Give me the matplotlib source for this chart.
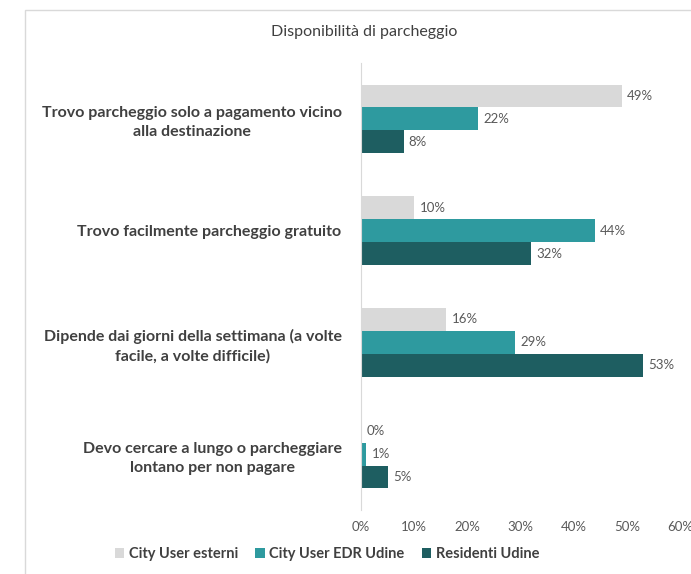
import numpy as np
from matplotlib import pyplot as plt
from matplotlib import ticker
from matplotlib.patches import Rectangle

plt.rcParams['font.family'] = ['Lato', 'DejaVu Sans']

categories = ['Trovo parcheggio solo a pagamento vicino\nalla destinazione',
              'Trovo facilmente parcheggio gratuito',
              'Dipende dai giorni della settimana (a volte\nfacile, a volte difficile)',
              'Devo cercare a lungo o parcheggiare\nlontano per non pagare']
series_names = ['City User esterni', 'City User EDR Udine', 'Residenti Udine']
esterni = [49, 10, 16, 0]
edr_udine = [22, 44, 29, 1]
residenti = [8, 32, 53, 5]
x_ticks = [0, 10, 20, 30, 40, 50, 60]

colors = ['#D9D9D9', '#2E9A9F', '#1E5E61']
text_col = '#404040'

fig = plt.figure(figsize=(6.91, 5.74), dpi=100)
fig.patches.append(Rectangle((25/691, -0.1), 1.0, 1.1 - 10/574,
                             transform=fig.transFigure, fill=False,
                             edgecolor='#D9D9D9', lw=1.0))

ax = fig.add_axes([361/691, 1-510/574, 319/691, 447/574])

y = np.arange(len(categories))
h = 0.205
for i, (vals, name) in enumerate(zip([esterni, edr_udine, residenti],
                                     series_names)):
    pos = y + (i - 1) * h
    ax.barh(pos, vals, h, color=colors[i], label=name)
    for p, v in zip(pos, vals):
        ax.text(v + 1.0, p, f'{v}%', va='center', ha='left',
                fontsize=9.5, color='#595959')

ax.set_ylim(len(categories) - 0.5, -0.5)
ax.set_xlim(0, 60)
ax.set_yticks(y)
ax.set_yticklabels(categories, fontsize=11.5, fontweight='bold',
                   color=text_col, multialignment='center',
                   linespacing=1.45)
ax.set_xticks(x_ticks)
ax.xaxis.set_major_formatter(ticker.FuncFormatter(lambda v, p: f'{v:.0f}%'))
ax.tick_params(axis='x', length=0, labelsize=9.5, labelcolor='#595959', pad=8)
ax.tick_params(axis='y', length=0, pad=14)
for s in ['top', 'right', 'bottom']:
    ax.spines[s].set_visible(False)
ax.spines['left'].set_color('#D9D9D9')

fig.text(364/691, 1-32/574, 'Disponibilità di parcheggio', ha='center',
         va='center', fontsize=11.5, color=text_col)

fig.legend(loc='center', bbox_to_anchor=(327/691, 1-554/574), ncol=3,
           frameon=False, handlelength=0.65, handleheight=0.65,
           handletextpad=0.3, columnspacing=1.2,
           prop={'weight': 'bold', 'size': 10.5})
for t in fig.legends[0].get_texts():
    t.set_color(text_col)

fig.savefig('out.png', dpi=100)
